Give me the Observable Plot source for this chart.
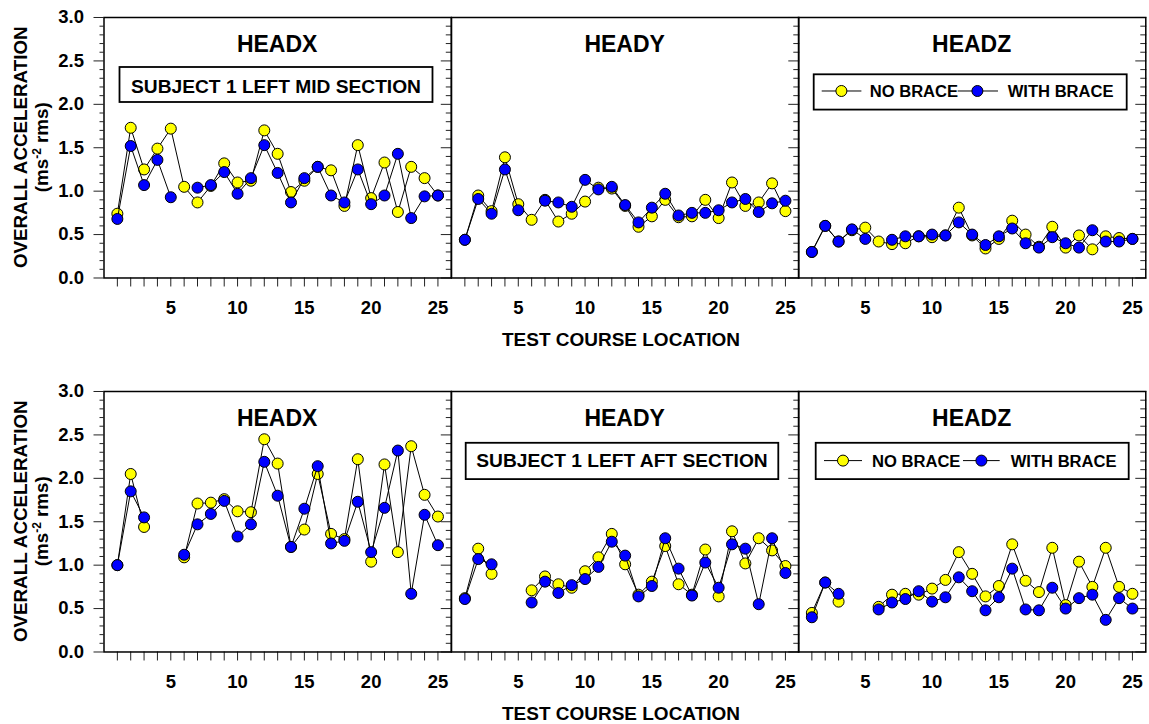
<!DOCTYPE html>
<html>
<head>
<meta charset="utf-8">
<script src="https://cdn.jsdelivr.net/npm/d3@7"></script>
<script src="https://cdn.jsdelivr.net/npm/@observablehq/plot@0.6"></script>
<style>
  body { margin: 0; background: #fff; }
  #chart { position: relative; width: 1149px; height: 724px; background: #fff;
           font-family: "Liberation Sans", Arial, sans-serif; overflow: hidden; }
  #chart svg { position: absolute; overflow: visible; max-width: none; }
</style>
</head>
<body>
<div id="chart"></div>
<script>
// ---------------- data ----------------
const locations = [1,2,3,4,5,6,7,8,9,10,11,12,13,14,15,16,17,18,19,20,21,22,23,24,25];
const xLabelTicks = [5,10,15,20,25];
const yMajorTicks = [0,0.5,1,1.5,2,2.5,3];
const yMinorTicks = [0.1,0.2,0.3,0.4,0.6,0.7,0.8,0.9,1.1,1.2,1.3,1.4,1.6,1.7,1.8,1.9,2.1,2.2,2.3,2.4,2.6,2.7,2.8,2.9];

const panelTitles = ["HEADX","HEADY","HEADZ"];
const sectionLabels = ["SUBJECT 1 LEFT MID SECTION","SUBJECT 1 LEFT AFT SECTION"];
const seriesNames = ["NO BRACE","WITH BRACE"];
const xTitle = "TEST COURSE LOCATION";

// Mid section (top row)
const midNoBraceX   = [0.74,1.73,1.25,1.49,1.72,1.05,0.87,1.06,1.32,1.10,1.12,1.70,1.43,0.99,1.12,1.28,1.24,0.83,1.53,0.92,1.33,0.76,1.28,1.15,0.95];
const midWithBraceX = [0.68,1.52,1.07,1.36,0.93,null,1.04,1.07,1.22,0.97,1.15,1.53,1.21,0.87,1.15,1.28,0.95,0.87,1.25,0.85,0.95,1.43,0.69,0.94,0.95];
const midNoBraceY   = [0.44,0.95,0.77,1.39,0.85,0.67,0.90,0.65,0.74,0.88,1.04,1.03,0.83,0.59,0.71,0.90,0.70,0.71,0.90,0.69,1.10,0.83,0.87,1.09,0.77];
const midWithBraceY = [0.44,0.91,0.74,1.25,0.78,null,0.89,0.87,0.82,1.13,1.02,1.05,0.84,0.64,0.81,0.97,0.72,0.75,0.75,0.78,0.87,0.91,0.76,0.86,0.89];
const midNoBraceZ   = [0.30,0.60,0.42,0.55,0.58,0.42,0.39,0.40,0.48,0.47,0.49,0.81,0.49,0.34,0.45,0.66,0.50,0.36,0.59,0.35,0.49,0.33,0.48,0.46,0.45];
const midWithBraceZ = [0.30,0.60,0.42,0.56,0.45,null,0.44,0.48,0.48,0.50,0.49,0.64,0.50,0.38,0.48,0.57,0.40,0.35,0.47,0.40,0.35,0.55,0.42,0.42,0.45];

// Aft section (bottom row)
const aftNoBraceX   = [1.00,2.05,1.44,null,null,1.09,1.71,1.72,1.76,1.62,1.61,2.45,2.17,1.21,1.41,2.05,1.36,1.30,2.22,1.04,2.16,1.15,2.37,1.81,1.56];
const aftWithBraceX = [1.00,1.85,1.55,null,null,1.12,1.47,1.59,1.74,1.33,1.47,2.19,1.80,1.21,1.65,2.14,1.25,1.28,1.73,1.15,1.66,2.32,0.67,1.58,1.23];
const aftNoBraceY   = [0.62,1.19,0.90,null,null,0.71,0.87,0.78,0.74,0.93,1.09,1.36,1.01,0.66,0.81,1.22,0.78,0.66,1.18,0.64,1.39,1.02,1.31,1.17,0.99];
const aftWithBraceY = [0.61,1.07,1.01,null,null,0.57,0.81,0.68,0.77,0.84,0.98,1.27,1.11,0.64,0.76,1.31,0.96,0.65,1.03,0.74,1.24,1.19,0.55,1.31,0.91];
const aftNoBraceZ   = [0.45,0.80,0.58,null,null,0.52,0.66,0.67,0.66,0.73,0.83,1.15,0.90,0.64,0.76,1.24,0.82,0.69,1.20,0.54,1.04,0.75,1.20,0.75,0.67];
const aftWithBraceZ = [0.40,0.80,0.67,null,null,0.49,0.57,0.61,0.70,0.58,0.63,0.86,0.70,0.48,0.63,0.96,0.49,0.48,0.74,0.50,0.62,0.66,0.37,0.62,0.50];

const rows = [
  [[midNoBraceX, midWithBraceX],[midNoBraceY, midWithBraceY],[midNoBraceZ, midWithBraceZ]],
  [[aftNoBraceX, aftWithBraceX],[aftNoBraceY, aftWithBraceY],[aftNoBraceZ, aftWithBraceZ]]
];

// ---------------- layout ----------------
const FONT = '"Liberation Sans", Arial, sans-serif';
const FRAME_W = 347.3, FRAME_H = 260.5;
const colLeft = [103.5, 450.8, 798.1];
const rowTop = [16.7, 390.9];
const MT = 17, MB = 78;
const YELLOW = "#ffff00", BLUE = "#0000ff";
const DOT_R = 5.5;

// per-panel annotation placement (relative to the frame's top-left corner)
const boxSpec = { "0-0": {x0:16, x1:329, y0:50, y1:85, base:76},
                  "1-1": {x0:14.7, x1:327.3, y0:51.8, y1:88.1, base:75.8} };
const legendSpec = { "0-2": {x0:15.7, x1:328.7, y0:57.3, y1:92.6, cy:74, l1:[23.7,63.4], c1:43.4, t1:71.7, l2:[159.7,200], c2:179.4, t2:209.7},
                     "1-2": {x0:17.7, x1:330.7, y0:51.8, y1:88.1, cy:69.6, l1:[26,64], c1:45, t1:74, l2:[165,201.7], c2:183.4, t2:212.7} };

const chart = document.getElementById("chart");

function makePanel(r, c) {
  const [noBrace, withBrace] = rows[r][c];
  const ml = c === 0 ? colLeft[0] : 0;
  const noData = locations.map((x, i) => ({x, y: noBrace[i]}));
  const wData = locations.map((x, i) => ({x, y: withBrace[i]}));
  const marks = [
    Plot.axisX({ticks: locations, tickSize: 9, tickFormat: () => "", label: null, stroke: "#222"}),
    Plot.axisX({ticks: xLabelTicks, tickSize: 0, tickPadding: 23.3, label: null,
                fontSize: 18.5, fontWeight: "bold", fill: "black"}),
    Plot.axisY({anchor: "right", ticks: yMajorTicks, tickSize: 11, dx: -11, tickFormat: () => "", label: null, stroke: "#222"}),
    Plot.axisY({anchor: "right", ticks: yMinorTicks, tickSize: 6, dx: -6, tickFormat: () => "", label: null, stroke: "#222"})
  ];
  if (c === 0) {
    marks.push(
      Plot.axisY({anchor: "left", ticks: yMajorTicks, tickSize: 10, tickPadding: 10, tickFormat: d3.format(".1f"),
                  label: null, fontSize: 18.5, fontWeight: "bold", fill: "black", stroke: "#222"}),
      Plot.axisY({anchor: "left", ticks: yMinorTicks, tickSize: 4, tickFormat: () => "", label: null, stroke: "#222"})
    );
  }
  marks.push(
    Plot.line(noData, {x: "x", y: "y", stroke: "black", strokeWidth: 1}),
    Plot.dot(noData, {x: "x", y: "y", r: DOT_R, fill: YELLOW, stroke: "black", strokeWidth: 1}),
    Plot.line(wData, {x: "x", y: "y", stroke: "black", strokeWidth: 1}),
    Plot.dot(wData, {x: "x", y: "y", r: DOT_R, fill: BLUE, stroke: "black", strokeWidth: 1}),
    Plot.frame({stroke: "black", strokeWidth: 1.5})
  );
  const svg = Plot.plot({
    width: ml + FRAME_W, height: MT + FRAME_H + MB,
    marginLeft: ml, marginRight: 0, marginTop: MT, marginBottom: MB,
    style: {fontFamily: FONT, fontWeight: "bold", color: "black", background: "transparent", overflow: "visible"},
    x: {domain: [0, 26]},
    y: {domain: [0, 3]},
    marks
  });
  svg.style.left = (colLeft[c] - ml) + "px";
  svg.style.top = (rowTop[r] - MT) + "px";
  chart.appendChild(svg);

  const s = d3.select(svg);
  const fx = ml, fy = MT;

  // panel title
  s.append("text").attr("x", fx + FRAME_W / 2).attr("y", fy + 35)
    .attr("text-anchor", "middle").attr("font-family", FONT).attr("font-weight", "bold")
    .attr("font-size", 23).attr("fill", "black").text(panelTitles[c]);

  // section box
  const bs = boxSpec[r + "-" + c];
  if (bs) {
    s.append("rect").attr("x", fx + bs.x0).attr("y", fy + bs.y0)
      .attr("width", bs.x1 - bs.x0).attr("height", bs.y1 - bs.y0)
      .attr("fill", "white").attr("stroke", "black").attr("stroke-width", 1.8);
    s.append("text").attr("x", fx + (bs.x0 + bs.x1) / 2).attr("y", fy + bs.base)
      .attr("text-anchor", "middle").attr("font-family", FONT).attr("font-weight", "bold")
      .attr("font-size", 19.2).attr("fill", "black").text(sectionLabels[r]);
  }

  // legend
  const lg = legendSpec[r + "-" + c];
  if (lg) {
    const g = s.append("g").attr("transform", `translate(${fx},${fy})`);
    g.append("rect").attr("x", lg.x0).attr("y", lg.y0).attr("width", lg.x1 - lg.x0)
      .attr("height", lg.y1 - lg.y0).attr("fill", "white").attr("stroke", "black").attr("stroke-width", 1.8);
    [[lg.l1, lg.c1, lg.t1, YELLOW, seriesNames[0]], [lg.l2, lg.c2, lg.t2, BLUE, seriesNames[1]]].forEach(([l, cx, tx, col, name]) => {
      g.append("line").attr("x1", l[0]).attr("x2", l[1]).attr("y1", lg.cy).attr("y2", lg.cy)
        .attr("stroke", "black").attr("stroke-width", 1);
      g.append("circle").attr("cx", cx).attr("cy", lg.cy).attr("r", DOT_R)
        .attr("fill", col).attr("stroke", "black").attr("stroke-width", 1);
      g.append("text").attr("x", tx).attr("y", lg.cy + 6).attr("text-anchor", "start")
        .attr("font-family", FONT).attr("font-weight", "bold")
        .attr("font-size", 16.6).attr("fill", "black").text(name);
    });
  }

  // y-axis title
  if (c === 0) {
    const cy = fy + FRAME_H / 2;
    s.append("text").attr("transform", `translate(26.5,${cy}) rotate(-90)`)
      .attr("text-anchor", "middle").attr("font-family", FONT).attr("font-weight", "bold")
      .attr("font-size", 18.8).attr("fill", "black").text("OVERALL ACCELERATION");
    const t2 = s.append("text").attr("transform", `translate(47.5,${cy}) rotate(-90)`)
      .attr("text-anchor", "middle").attr("font-family", FONT).attr("font-weight", "bold")
      .attr("font-size", 18.8).attr("fill", "black");
    t2.append("tspan").text("(ms");
    t2.append("tspan").attr("dy", -7).attr("font-size", 12).text("-2");
    t2.append("tspan").attr("dy", 7).text(" rms)");
  }

  // x-axis title
  if (c === 1) {
    s.append("text").attr("x", fx + 170).attr("y", fy + FRAME_H + 69)
      .attr("text-anchor", "middle").attr("font-family", FONT).attr("font-weight", "bold")
      .attr("font-size", 19).attr("fill", "black").text(xTitle);
  }
}

for (let r = 0; r < 2; r++) for (let c = 0; c < 3; c++) makePanel(r, c);
</script>
</body>
</html>
